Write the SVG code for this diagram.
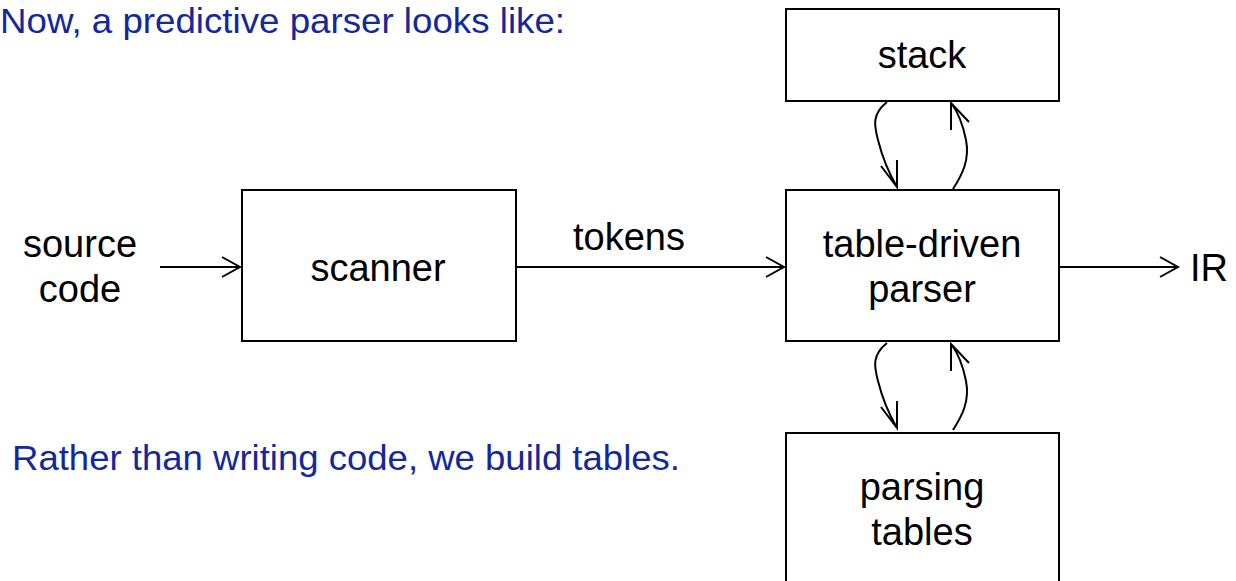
<svg xmlns="http://www.w3.org/2000/svg" width="1236" height="581" viewBox="0 0 1236 581">
<style>
.box{fill:#fff;stroke:#000;stroke-width:2}
.lbl{font-family:"Liberation Sans",Arial,sans-serif;font-size:38px;fill:#000;text-anchor:middle}
.note{font-family:"Liberation Sans",Arial,sans-serif;font-size:35px;fill:#14289a}
.ln{fill:none;stroke:#000;stroke-width:2}
</style>
<rect width="1236" height="581" fill="#fff"/>
<text class="note" x="0" y="33" textLength="565" lengthAdjust="spacingAndGlyphs">Now, a predictive parser looks like:</text>
<text class="note" x="12" y="470" textLength="668" lengthAdjust="spacingAndGlyphs">Rather than writing code, we build tables.</text>
<g id="source">
<text class="lbl" x="80" y="257">source</text>
<text class="lbl" x="80" y="302">code</text>
</g>
<g id="scanner">
<rect class="box" x="242" y="190" width="274" height="151"/>
<text class="lbl" x="378" y="281">scanner</text>
</g>
<g id="parser">
<rect class="box" x="786" y="190" width="273" height="151"/>
<text class="lbl" x="922" y="257">table-driven</text>
<text class="lbl" x="922" y="302">parser</text>
</g>
<g id="stack">
<rect class="box" x="786" y="9" width="273" height="92"/>
<text class="lbl" x="922" y="68">stack</text>
</g>
<g id="tables">
<rect class="box" x="786" y="433" width="273" height="160"/>
<text class="lbl" x="922" y="500">parsing</text>
<text class="lbl" x="922" y="545">tables</text>
</g>
<g id="IR">
<text class="lbl" x="1209" y="281">IR</text>
</g>
<g id="connectors">
<path class="ln" d="M160,267 H240 M222,257 L240,267 L222,277"/>
<path class="ln" d="M516,267 H784 M766,257 L784,267 L766,277"/>
<text class="lbl" x="629" y="250">tokens</text>
<path class="ln" d="M1059,267 H1178 M1160,257 L1178,267 L1160,277"/>
<g id="stackarrows">
<path class="ln" d="M887,102 C872,114 874,125 878,140 C883,160 890,175 897,187 M881,166 L897,187 L897,160"/>
<path class="ln" d="M953,189 C962,175 970,160 966,140 C963,125 958,112 951,103 M951,130 L951,103 L969,122"/>
</g>
<g transform="translate(0,241)">
<path class="ln" d="M887,102 C872,114 874,125 878,140 C883,160 890,175 897,187 M881,166 L897,187 L897,160"/>
<path class="ln" d="M953,189 C962,175 970,160 966,140 C963,125 958,112 951,103 M951,130 L951,103 L969,122"/>
</g>
</g>
</svg>
